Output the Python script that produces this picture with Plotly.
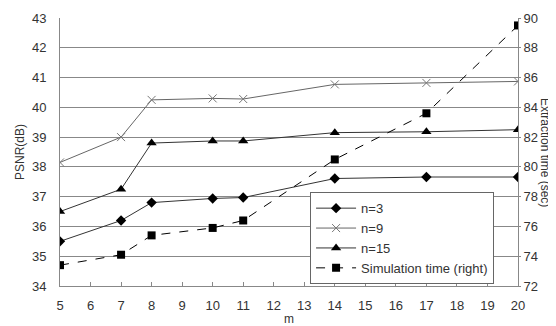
import plotly.graph_objects as go

m = [5, 7, 8, 10, 11, 14, 17, 20]
n3 = [35.5, 36.2, 36.8, 36.94, 36.97, 37.61, 37.66, 37.66]
n9 = [38.15, 39.0, 40.25, 40.3, 40.28, 40.77, 40.82, 40.87]
n15 = [36.5, 37.25, 38.8, 38.87, 38.87, 39.15, 39.18, 39.25]
sim_time = [73.4, 74.1, 75.4, 75.9, 76.4, 80.5, 83.6, 89.5]

fig = go.Figure()
fig.add_trace(go.Scatter(x=m, y=n3, name="n=3", mode="lines+markers",
                         line=dict(color="#333333", width=1),
                         marker=dict(symbol="diamond", size=8, color="black")))
fig.add_trace(go.Scatter(x=m, y=n9, name="n=9", mode="lines+markers",
                         line=dict(color="#666666", width=1),
                         marker=dict(symbol="x-thin", size=8, color="#666666",
                                     line=dict(width=1, color="#777777"))))
fig.add_trace(go.Scatter(x=m, y=n15, name="n=15", mode="lines+markers",
                         line=dict(color="#333333", width=1),
                         marker=dict(symbol="triangle-up", size=9, color="black")))
fig.add_trace(go.Scatter(x=m, y=sim_time, name="Simulation time (right)", mode="lines+markers",
                         yaxis="y2",
                         line=dict(color="black", width=1, dash="dash"),
                         marker=dict(symbol="square", size=8, color="black")))

fig.update_layout(
    width=548, height=318,
    margin=dict(l=52, r=38, t=10, b=40, autoexpand=False),
    paper_bgcolor="white", plot_bgcolor="white",
    font=dict(family="Liberation Sans, Arial", size=12, color="#333333"),
    xaxis=dict(range=[5, 20], dtick=1, tick0=5, showgrid=False, zeroline=False,
               showline=True, linecolor="#888888", linewidth=1,
               ticks="inside", ticklen=4, tickcolor="#888888",
               ticklabelstandoff=7, tickfont=dict(size=13), automargin=False,
               title=dict(text="m", standoff=3, font=dict(size=12))),
    yaxis=dict(range=[34, 43], dtick=1, showgrid=True, gridcolor="#888888", gridwidth=1,
               zeroline=False, showline=True, linecolor="#888888", linewidth=1,
               ticklabelstandoff=10, automargin=False,
               title=dict(text="PSNR(dB)", standoff=4, font=dict(size=12)),
               tickfont=dict(size=13)),
    yaxis2=dict(range=[72, 90], dtick=2, overlaying="y", side="right",
                showgrid=False, zeroline=False, showline=True, linecolor="#888888",
                linewidth=1, ticks="outside", ticklen=2, tickcolor="#888888",
                ticklabelstandoff=0, tickfont=dict(size=13), automargin=False),
    legend=dict(x=0.546, y=0.35, xanchor="left", yanchor="top",
                bgcolor="white", bordercolor="#666666", borderwidth=1,
                font=dict(size=13), tracegroupgap=0, itemwidth=40),
    showlegend=True,
)
fig.add_annotation(text="Extraction time (sec)", textangle=90, xref="paper", yref="paper",
                   x=1.059, y=0.5, xanchor="center", yanchor="middle", showarrow=False,
                   font=dict(size=12, color="#333333"))
fig.write_html("out.html")
